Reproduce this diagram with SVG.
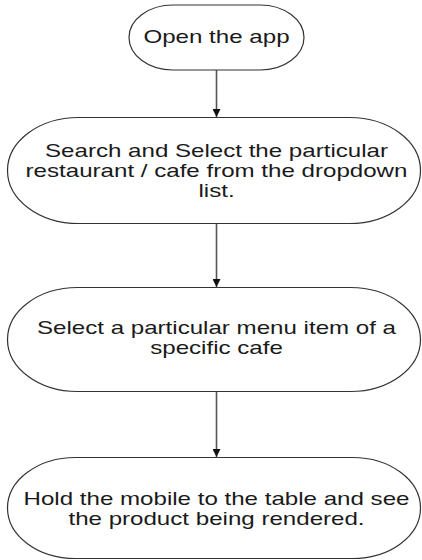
<svg xmlns="http://www.w3.org/2000/svg" width="422" height="560" viewBox="0 0 422 560">
<defs>
<style>
.node{fill:#ffffff;stroke:#333333;stroke-width:1.2}
.lbl{font-family:"Liberation Sans",Arial,sans-serif;font-size:18px;fill:#1a1a1a;text-anchor:middle}
.conn{stroke:#555555;stroke-width:1.6;fill:none}
</style>
<marker id="arrow" viewBox="0 0 10 10" refX="10" refY="5" markerWidth="9" markerHeight="8" orient="auto" markerUnits="userSpaceOnUse">
<path d="M0,0 L10,5 L0,10 Z" fill="#111111"/>
</marker>
</defs>
<rect width="422" height="560" fill="#ffffff"/>
<g id="connectors">
<line class="conn" x1="216.5" y1="70" x2="216.5" y2="117" marker-end="url(#arrow)"/>
<line class="conn" x1="216.5" y1="223" x2="216.5" y2="287" marker-end="url(#arrow)"/>
<line class="conn" x1="216.5" y1="391" x2="216.5" y2="457" marker-end="url(#arrow)"/>
</g>
<g id="node1">
<rect class="node" x="129" y="5" width="175" height="65" rx="44" ry="32.5"/>
<text class="lbl" transform="translate(216.5 43) scale(1.34 1)" x="0" y="0">Open the app</text>
</g>
<g id="node2">
<rect class="node" x="7.5" y="117.5" width="413" height="106" rx="71" ry="53"/>
<text class="lbl" transform="translate(216.5 0) scale(1.34 1)"><tspan x="0" y="157">Search and Select the particular</tspan><tspan x="0" y="177">restaurant / cafe from the dropdown</tspan><tspan x="0" y="197">list.</tspan></text>
</g>
<g id="node3">
<rect class="node" x="7.5" y="287.5" width="413" height="104" rx="70" ry="52"/>
<text class="lbl" transform="translate(216.5 0) scale(1.34 1)"><tspan x="0" y="334">Select a particular menu item of a</tspan><tspan x="0" y="354">specific cafe</tspan></text>
</g>
<g id="node4">
<rect class="node" x="7.5" y="457.5" width="413" height="101" rx="68" ry="50.5"/>
<text class="lbl" transform="translate(216.5 0) scale(1.34 1)"><tspan x="0" y="505">Hold the mobile to the table and see</tspan><tspan x="0" y="525">the product being rendered.</tspan></text>
</g>
</svg>
